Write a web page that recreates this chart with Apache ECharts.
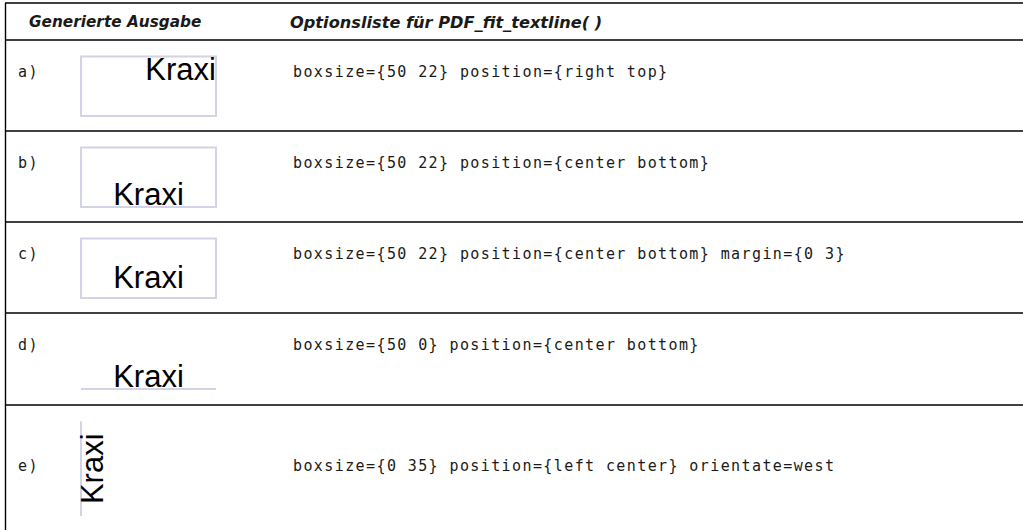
<!DOCTYPE html>
<html>
<head>
<meta charset="utf-8">
<script src="https://cdn.jsdelivr.net/npm/echarts@6/dist/echarts.min.js"></script>
<style>
html, body { margin: 0; padding: 0; background: #fff; }
#main { width: 1023px; height: 530px; }
/* the option lists use a wide-set monospace face */
#main text[style*="Mono"] { letter-spacing: 1.4px; }
</style>
</head>
<body>
<div id="main"></div>
<script>
// table content
const headers = ['Generierte Ausgabe', 'Optionsliste für PDF_fit_textline( )'];
const rowKeys = ['a)', 'b)', 'c)', 'd)', 'e)'];
const optionLists = [
  'boxsize={50 22} position={right top}',
  'boxsize={50 22} position={center bottom}',
  'boxsize={50 22} position={center bottom} margin={0 3}',
  'boxsize={50 0} position={center bottom}',
  'boxsize={0 35} position={left center} orientate=west'
];
const sampleText = 'Kraxi';
// same options as numbers (points)
const boxSizes = [[50, 22], [50, 22], [50, 22], [50, 0], [0, 35]];
const positions = [['right', 'top'], ['center', 'bottom'], ['center', 'bottom'], ['center', 'bottom'], ['left', 'center']];
const margins = [[0, 0], [0, 0], [0, 3], [0, 0], [0, 0]];
const orientations = ['north', 'north', 'north', 'north', 'west'];

// layout, px
const rowLines = [3, 40, 131, 222, 313, 405];
const colX = [29, 290];
const labelX = 18;
const codeX = 293;
const labelOffset = [32, 32, 32, 32, 61];
const boxBottomOffset = [76, 76, 76, 76, 111];
const PT = 2.7;            // px per point in the samples
const boxLeft = 81;
const sampleSize = 31;
const capH = 0.716 * sampleSize;
const midShift = 0.3465 * sampleSize;   // baseline sits this far below 'middle'
const boxColor = '#d3d3e6';
const ink = '#1a1a1a';

function monoText(x, y, s) {
  return {
    type: 'text', x: x, y: y,
    style: {
      text: s, fill: ink, fontSize: 15, fontFamily: 'DejaVu Sans Mono',
      align: 'left', textAlign: 'left', verticalAlign: 'middle', textVerticalAlign: 'middle'
    }
  };
}

function renderFrame(params, api) {
  const i = params.dataIndex;
  const y = api.value(1);
  const a = api.coord([5, y]);
  const b = api.coord([1023, y]);
  const children = [{
    type: 'line',
    shape: { x1: a[0], y1: a[1], x2: b[0], y2: b[1] },
    style: { stroke: '#000', lineWidth: 1.4 }
  }];
  if (i === 0) {
    const bot = api.coord([5.5, 530]);
    children.push({
      type: 'line',
      shape: { x1: bot[0], y1: a[1], x2: bot[0], y2: bot[1] },
      style: { stroke: '#000', lineWidth: 1.4 }
    });
    colX.forEach(function (hx, k) {
      const p = api.coord([hx, 22]);
      children.push({
        type: 'text', x: p[0], y: p[1],
        style: {
          text: headers[k], fill: ink, fontSize: k ? 16.2 : 15.3, fontFamily: 'DejaVu Sans',
          fontWeight: 'bold', fontStyle: 'italic',
          align: 'left', textAlign: 'left', verticalAlign: 'middle', textVerticalAlign: 'middle'
        }
      });
    });
  }
  return { type: 'group', children: children };
}

function renderRow(params, api) {
  const i = params.dataIndex;
  const top = rowLines[i + 1];
  const children = [];
  const lp = api.coord([labelX, top + labelOffset[i]]);
  children.push(monoText(lp[0], lp[1], rowKeys[i]));
  const cp = api.coord([codeX, top + labelOffset[i]]);
  children.push(monoText(cp[0], cp[1], optionLists[i]));

  // sample box
  const sz = api.size([boxSizes[i][0] * PT, boxSizes[i][1] * PT]);
  const w = sz[0], h = sz[1];
  const bl = api.coord([boxLeft, top + boxBottomOffset[i]]);
  const bx = bl[0], bBot = bl[1], bTop = bBot - h;
  const boxStyle = { stroke: boxColor, lineWidth: 2, fill: null };
  if (w > 0 && h > 0) {
    children.push({ type: 'rect', shape: { x: bx, y: bTop, width: w, height: h }, style: boxStyle });
  } else {
    children.push({
      type: 'line',
      shape: { x1: bx, y1: bTop, x2: bx + w, y2: bBot },
      style: boxStyle
    });
  }

  // sample text
  const mx = margins[i][0] * PT, my = margins[i][1] * PT;
  const pos = positions[i];
  const font = { fill: '#000', fontSize: sampleSize, fontFamily: 'Liberation Sans' };
  if (orientations[i] === 'west') {
    let cx = bx + mx + capH;
    if (pos[0] === 'center') cx = bx + w / 2 + capH / 2;
    let cy = (bTop + bBot) / 2;
    children.push({
      type: 'text', x: cx, y: cy, rotation: Math.PI / 2,
      style: Object.assign({
        text: sampleText, x: 0, y: -midShift,
        align: 'center', textAlign: 'center', verticalAlign: 'middle', textVerticalAlign: 'middle'
      }, font)
    });
  } else {
    let tx = bx + w / 2, al = 'center';
    if (pos[0] === 'left') { tx = bx + mx; al = 'left'; }
    if (pos[0] === 'right') { tx = bx + w - mx; al = 'right'; }
    let base = (bTop + bBot) / 2 + capH / 2;
    if (pos[1] === 'top') base = bTop + my + capH + 1;
    if (pos[1] === 'bottom') base = bBot - my - 2;
    children.push({
      type: 'text', x: tx, y: base - midShift,
      style: Object.assign({
        text: sampleText, align: al, textAlign: al, verticalAlign: 'middle', textVerticalAlign: 'middle'
      }, font)
    });
  }
  return { type: 'group', children: children };
}

const chart = echarts.init(document.getElementById('main'), null, { renderer: 'svg' });
chart.setOption({
  animation: false,
  backgroundColor: '#fff',
  grid: { left: 0, right: 0, top: 0, bottom: 0 },
  xAxis: { type: 'value', min: 0, max: 1023, show: false },
  yAxis: { type: 'value', min: 0, max: 530, inverse: true, show: false },
  series: [
    {
      type: 'custom', name: 'frame', clip: false, silent: true,
      data: rowLines.map(function (y) { return [5, y]; }),
      renderItem: renderFrame
    },
    {
      type: 'custom', name: 'rows', clip: false, silent: true,
      data: rowKeys.map(function (k, i) { return [boxLeft, rowLines[i + 1]]; }),
      renderItem: renderRow
    }
  ]
});
</script>
</body>
</html>
